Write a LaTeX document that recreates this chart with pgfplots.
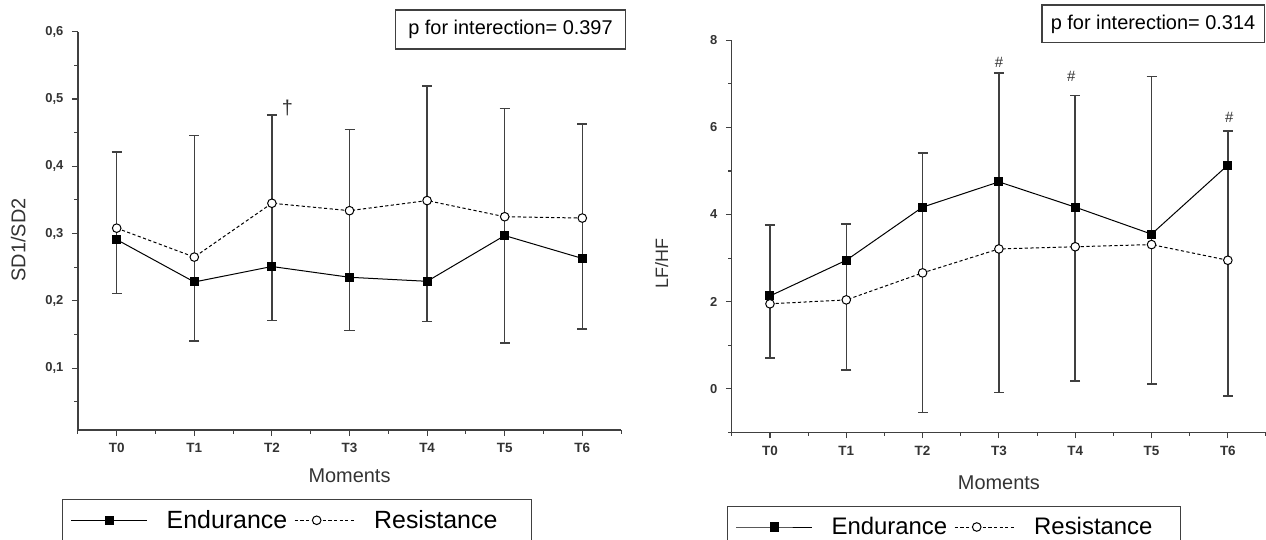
\documentclass[border=0pt]{standalone}
\usepackage{fontspec}
\setmainfont{Liberation Sans}
\usepackage{pgfplots}
\pgfplotsset{compat=1.18}
\usepackage{pgfplotstable}

\definecolor{axisgray}{HTML}{404040}
\definecolor{textgray}{HTML}{333333}

% SD1/SD2: means and the lower/upper error caps
\pgfplotstableread{
x end   res   lo    hi
0 0.291 0.308 0.211 0.421
1 0.228 0.265 0.140 0.4455
2 0.251 0.345 0.171 0.476
3 0.235 0.334 0.156 0.455
4 0.229 0.349 0.169 0.519
5 0.297 0.325 0.137 0.486
6 0.263 0.323 0.158 0.463
}\sdtable

% LF/HF
\pgfplotstableread{
x end   res  lo    hi
0 2.13  1.95 0.71  3.76
1 2.95  2.04 0.435 3.78
2 4.17  2.66 -0.54 5.41
3 4.75  3.21 -0.09 7.25
4 4.17  3.26 0.18  6.73
5 3.55  3.31 0.11  7.17
6 5.135 2.95 -0.17 5.92
}\lftable

\pgfplotsset{
  hrv/.style={
    scale only axis,
    axis x line*=bottom, axis y line*=left,
    axis line style={axisgray, line width=1.3bp},
    tick style={axisgray, line width=1.1bp},
    tick align=outside,
    major tick length=6bp, minor tick length=3.5bp,
    xmin=-0.5, xmax=6.5,
    xtick={0,...,6}, xticklabels={T0,T1,T2,T3,T4,T5,T6},
    minor xtick={-0.5,0.5,...,6.5},
    xticklabel style={font=\fontsize{13.5}{15}\selectfont\bfseries, text=textgray, yshift=-4bp},
    yticklabel style={font=\fontsize{13}{15}\selectfont\bfseries, text=textgray, xshift=-5bp},
    /pgf/number format/assume math mode=true,
    label style={font=\fontsize{20}{24}\selectfont, text=textgray},
    clip=false,
    legend columns=2,
    legend style={draw=axisgray, line width=1.2bp, font=\fontsize{25}{29}\selectfont,
      text=black, inner xsep=8bp, inner ysep=9bp,
      /tikz/every odd column/.append style={column sep=17bp},
      /tikz/every even column/.append style={column sep=5bp}},
  },
  endstyle/.style={black, line width=1bp, solid, mark=square*, mark size=4bp,
    mark options={solid, fill=black},
    legend image code/.code={\draw[mark repeat=2, mark phase=2, ##1]
      plot coordinates {(0bp,0bp) (38bp,0bp) (76bp,0bp)};}},
  resstyle/.style={black, line width=1bp, dash pattern=on 3.2bp off 2.4bp, mark=*,
    mark size=4.3bp, mark options={solid, fill=white, line width=1bp},
    legend image code/.code={\draw[mark repeat=2, mark phase=2, ##1]
      plot coordinates {(0bp,0bp) (22bp,0bp) (60bp,0bp)};}},
  barstyle/.style={forget plot, draw=none, mark=none,
    error bars/.cd, y dir=both, y explicit,
    error bar style={draw=axisgray, line width=1.5bp, solid},
    error mark options={rotate=90, draw=axisgray, line width=1.5bp, mark size=5bp, solid}},
}

\begin{document}
\begin{tikzpicture}
\useasboundingbox (0bp,0bp) rectangle (1266bp,540bp);

\begin{axis}[hrv,
  at={(77.9bp,110bp)}, anchor=south west,
  width=543.2bp, height=398.3bp,
  ymin=0.008, ymax=0.6,
  ytick={0.1,0.2,0.3,0.4,0.5,0.6},
  minor ytick={0.05,0.15,...,0.55},
  yticklabel style={/pgf/number format/.cd, use comma, fixed, fixed zerofill, precision=1},
  xlabel={Moments}, ylabel={SD1/SD2},
  xlabel style={at={(axis description cs:0.5,-0.1155)}, anchor=center},
  ylabel style={at={(axis description cs:-0.110,0.477)}, anchor=center},
  legend style={at={(axis description cs:-0.029,-0.173)}, anchor=north west},
]
\addplot[barstyle] table[x=x, y=end,
  y error plus expr=\thisrow{hi}-\thisrow{end},
  y error minus expr=\thisrow{end}-\thisrow{lo}] {\sdtable};
\addplot[endstyle] table[x=x, y=end] {\sdtable};
\addplot[resstyle] table[x=x, y=res] {\sdtable};
\legend{Endurance, Resistance\rule{24bp}{0pt}}
\node[font=\fontsize{20}{24}\selectfont, text=textgray] at (axis cs:2.2,0.487) {\textdagger};
\end{axis}

\begin{axis}[hrv,
  at={(731.8bp,107.7bp)}, anchor=south west,
  width=534.2bp, height=392bp,
  ymin=-1, ymax=8,
  ytick={0,2,4,6,8},
  minor ytick={-1,1,3,5,7},
  xlabel={Moments}, ylabel={LF/HF},
  ylabel style={font=\fontsize{18}{22}\selectfont, at={(axis description cs:-0.131,0.43)}, anchor=center},
  xlabel style={at={(axis description cs:0.5,-0.129)}, anchor=center},
  legend style={at={(axis description cs:-0.009,-0.188)}, anchor=north west,
    font=\fontsize{24}{28}\selectfont},
]
\addplot[barstyle] table[x=x, y=end,
  y error plus expr=\thisrow{hi}-\thisrow{end},
  y error minus expr=\thisrow{end}-\thisrow{lo}] {\lftable};
\addplot[endstyle] table[x=x, y=end] {\lftable};
\addplot[resstyle] table[x=x, y=res] {\lftable};
\legend{Endurance, Resistance\rule{18bp}{0pt}}
\node[font=\fontsize{15}{18}\selectfont, text=textgray] at (axis cs:3,7.49) {\#};
\node[font=\fontsize{15}{18}\selectfont, text=textgray] at (axis cs:3.95,7.18) {\#};
\node[font=\fontsize{15}{18}\selectfont, text=textgray] at (axis cs:6.02,6.24) {\#};
\end{axis}

% p-value boxes
\draw[axisgray, line width=1.2bp] (395.5bp,491bp) rectangle (625.5bp,530bp);
\node[font=\fontsize{20}{24}\selectfont, text=black] at (510.5bp,510.5bp) {p for interection= 0.397};
\draw[axisgray, line width=1.2bp] (1042bp,497.5bp) rectangle (1264.5bp,535bp);
\node[font=\fontsize{20}{24}\selectfont, text=black] at (1153bp,516bp) {p for interection= 0.314};
\end{tikzpicture}
\end{document}
